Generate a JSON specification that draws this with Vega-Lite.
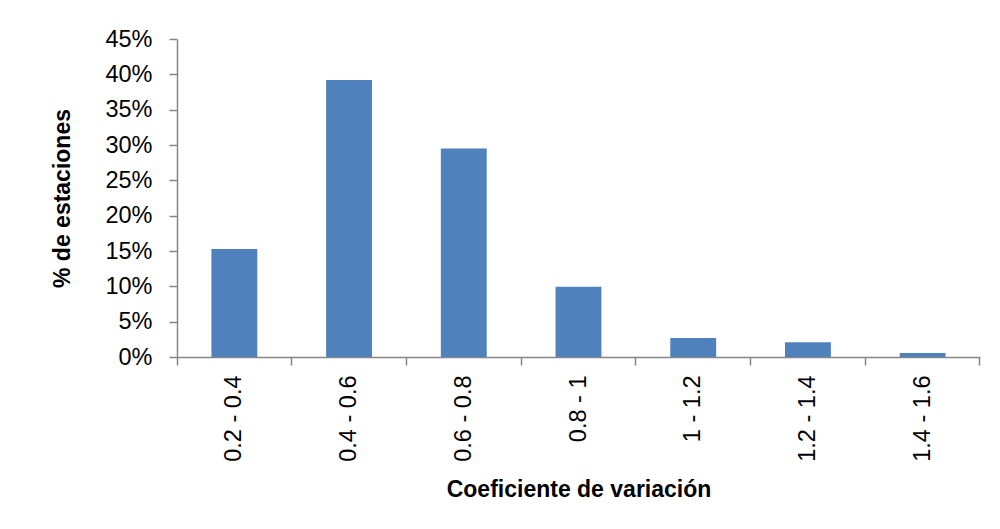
{
  "$schema": "https://vega.github.io/schema/vega-lite/v6.json",
  "width": 803,
  "height": 318,
  "autosize": {"type": "none"},
  "padding": {"left": 177, "top": 39, "right": 20, "bottom": 172},
  "background": "white",
  "config": {"view": {"stroke": null}},
  "data": {
    "values": [
      {"rango": "0.2 - 0.4", "pct": 0.153},
      {"rango": "0.4 - 0.6", "pct": 0.392},
      {"rango": "0.6 - 0.8", "pct": 0.295},
      {"rango": "0.8 - 1", "pct": 0.0995},
      {"rango": "1 - 1.2", "pct": 0.027},
      {"rango": "1.2 - 1.4", "pct": 0.0207},
      {"rango": "1.4 - 1.6", "pct": 0.0057}
    ]
  },
  "mark": {"type": "bar", "color": "#4F81BD", "width": {"band": 0.4}},
  "encoding": {
    "x": {
      "field": "rango",
      "type": "nominal",
      "sort": null,
      "scale": {"paddingInner": 0, "paddingOuter": 0},
      "axis": {
        "title": "Coeficiente de variación",
        "titleFont": "Liberation Sans",
        "titleFontSize": 23,
        "titleFontWeight": "bold",
        "titleColor": "#000000",
        "titlePadding": 17,
        "labelAngle": -90,
        "labelAlign": "right",
        "labelBaseline": "middle",
        "labelFont": "Liberation Sans",
        "labelFontSize": 23.5,
        "labelColor": "#000000",
        "labelPadding": 10,
        "bandPosition": 1,
        "tickExtra": true,
        "tickSize": 8,
        "tickColor": "#868686",
        "tickWidth": 1.5,
        "domainColor": "#868686",
        "domainWidth": 1.5,
        "grid": false
      }
    },
    "y": {
      "field": "pct",
      "type": "quantitative",
      "scale": {"domain": [0, 0.45], "nice": false},
      "axis": {
        "title": "% de estaciones",
        "titleFont": "Liberation Sans",
        "titleFontSize": 23,
        "titleFontWeight": "bold",
        "titleColor": "#000000",
        "titlePadding": 30,
        "format": ".0%",
        "values": [0, 0.05, 0.1, 0.15, 0.2, 0.25, 0.3, 0.35, 0.4, 0.45],
        "labelFont": "Liberation Sans",
        "labelFontSize": 23.5,
        "labelColor": "#000000",
        "labelPadding": 17,
        "tickSize": 8,
        "tickColor": "#868686",
        "tickWidth": 1.5,
        "domainColor": "#868686",
        "domainWidth": 1.5,
        "grid": false
      }
    }
  }
}
